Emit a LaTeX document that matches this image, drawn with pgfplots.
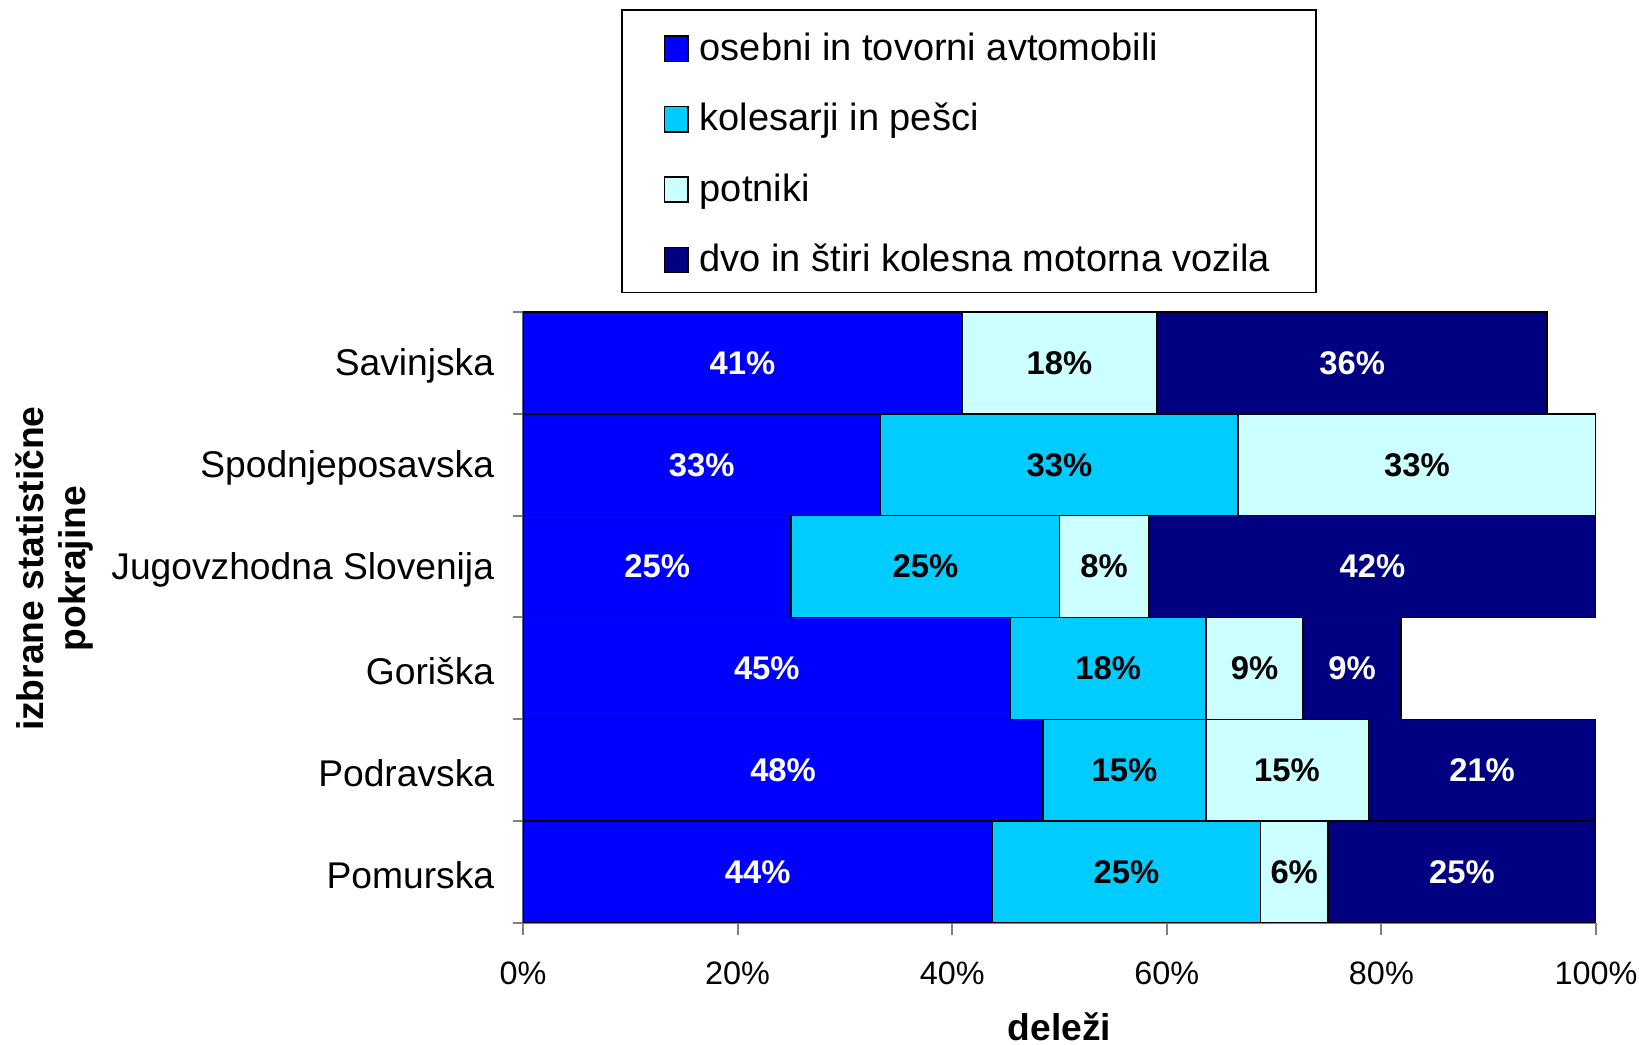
\documentclass[border=0pt]{standalone}
\usepackage{pgfplots}
\pgfplotsset{compat=1.18}
\usepackage{fontspec}
\setmainfont{Liberation Sans}
\definecolor{avto}{RGB}{0,0,255}
\definecolor{kolesa}{RGB}{0,204,255}
\definecolor{potnik}{RGB}{204,255,255}
\definecolor{motor}{RGB}{0,0,128}
\definecolor{osgray}{RGB}{128,128,128}

\begin{document}
\begin{tikzpicture}
\begin{axis}[
    at={(0,0)}, anchor=south west,
    scale only axis,
    width=268.25pt, height=152.75pt,
    xbar stacked,
    bar width=1,
    xmin=0, xmax=100,
    ymin=-0.5, ymax=5.5,
    axis x line*=bottom,
    axis y line*=left,
    axis line style={osgray, line width=0.5pt},
    tick align=outside,
    tick style={osgray, line width=0.5pt},
    major tick length=3pt,
    minor tick length=2.6pt,
    xtick={0,20,...,100},
    xticklabels={0\%,20\%,40\%,60\%,80\%,100\%},
    xticklabel style={font=\fontsize{8.1}{9}\selectfont, yshift=-3.2pt},
    ytick={0,...,5},
    yticklabels={Pomurska,Podravska,Goriška,Jugovzhodna Slovenija,Spodnjeposavska,Savinjska},
    yticklabel style={font=\fontsize{9.3}{11}\selectfont, xshift=-0.7pt, yshift=-0.8pt},
    major y tick style={draw=none},
    minor ytick={-0.5,0.5,...,5.5},
    /pgf/number format/assume math mode=true,
    xlabel={deleži},
    xlabel style={font=\fontsize{9.3}{11}\selectfont\bfseries, at={(axis description cs:0.5,0)}, anchor=base, yshift=-29.5pt},
    ylabel={izbrane statistične\\pokrajine},
    ylabel style={font=\fontsize{9.3}{10.5}\selectfont\bfseries, align=center, at={(axis description cs:0,0.5)}, anchor=center, xshift=12.2pt, yshift=117.25pt},
    visualization depends on=rawx\as\rawx,
    nodes near coords={\ifdim\rawx pt<0.01pt\else\pgfmathprintnumber[fixed,precision=0]{\rawx}\%\fi},
    nodes near coords style={anchor=center, font=\fontsize{8.2}{9}\selectfont\bfseries},
    legend style={at={(0.0913,1)}, anchor=south west, yshift=4.7pt, draw=black, line width=0.4pt,
        inner xsep=10.5pt, inner ysep=3.45pt, row sep=6.7pt,
        font=\fontsize{9.5}{11}\selectfont,
        /tikz/every odd column/.append style={column sep=1.8pt},
        nodes={inner sep=1pt, text height=8.2pt, text depth=0.7pt}},
    legend cell align=left,
    legend image code/.code={\draw[#1, draw=black, line width=0.4pt] (0pt,-3.95pt) rectangle (5.8pt,2.35pt);},
    every axis plot/.append style={draw=black, line width=0.4pt},
]
\addplot[fill=avto, every node near coord/.append style={text=white}] coordinates {
    (43.75,0) (48.48,1) (45.45,2) (25.00,3) (33.33,4) (40.91,5)};
\addlegendentry{osebni in tovorni avtomobili}
\addplot[fill=kolesa, every node near coord/.append style={text=black}] coordinates {
    (25.00,0) (15.15,1) (18.18,2) (25.00,3) (33.33,4) (0,5)};
\addlegendentry{kolesarji in pešci}
\addplot[fill=potnik, every node near coord/.append style={text=black}] coordinates {
    (6.25,0) (15.15,1) (9.09,2) (8.33,3) (33.33,4) (18.18,5)};
\addlegendentry{potniki}
\addplot[fill=motor, every node near coord/.append style={text=white}] coordinates {
    (25.00,0) (21.21,1) (9.09,2) (41.67,3) (0,4) (36.36,5)};
\addlegendentry{dvo in štiri kolesna motorna vozila}
\end{axis}
\pgfresetboundingbox
\path[use as bounding box] (-130.75pt,-30.5pt) rectangle (279pt,230.75pt);
\end{tikzpicture}
\end{document}
